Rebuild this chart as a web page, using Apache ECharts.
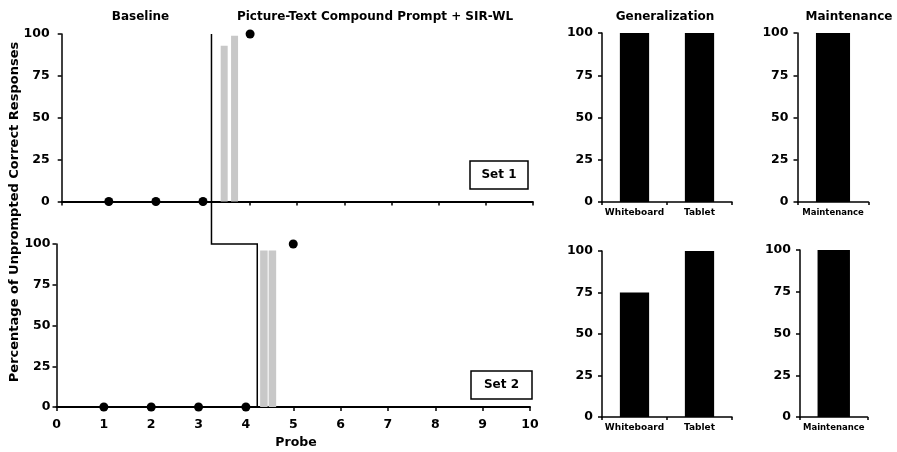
<!DOCTYPE html>
<html>
<head>
<meta charset="utf-8">
<script src="https://cdn.jsdelivr.net/npm/echarts@6/dist/echarts.min.js"></script>
<style>
  html, body { margin: 0; padding: 0; background: #fff; }
  #chart { width: 897px; height: 452px; }
</style>
</head>
<body>
<div id="chart"></div>
<script>
// Probe data, set 1
const set1Probe = [1, 2, 3, 4];
const set1Pct = [0, 0, 0, 100];
// Teaching-session bars, set 1 (probe position, percentage)
const set1SessionX = [3.45, 3.67];
const set1SessionPct = [93, 99];

// Probe data, set 2
const set2Probe = [1, 2, 3, 4, 5];
const set2Pct = [0, 0, 0, 0, 100];
const set2SessionX = [4.38, 4.56];
const set2SessionPct = [96, 96];

// Phase change positions (probe units) for set 1 and set 2
const phaseChange = [3.18, 4.24];

// Generalization and maintenance probes
const genCats = ['Whiteboard', 'Tablet'];
const gen1 = [100, 100];
const gen2 = [75, 100];
const maintCats = ['Maintenance'];
const maint1 = [100];
const maint2 = [100];

const probeMin = 0, probeMax = 10;

const FONT = '"DejaVu Sans", "Liberation Sans", Arial, sans-serif';
const black = '#000';

function yAxisCfg(gridIndex, margin) {
  return {
    type: 'value', gridIndex, min: 0, max: 100, interval: 25,
    axisLine: { show: true, lineStyle: { color: black, width: 1.5 } },
    axisTick: { show: true, length: 4, lineStyle: { color: black, width: 1.5 } },
    splitLine: { show: false },
    axisLabel: { color: black, fontFamily: FONT, fontWeight: 'bold', fontSize: 12.5, margin }
  };
}
function probeAxis(gridIndex, showLabels) {
  return {
    type: 'value', gridIndex, min: probeMin, max: probeMax, interval: 1,
    axisLine: { show: true, onZero: false, lineStyle: { color: black, width: 2 } },
    axisTick: { show: true, length: 4, lineStyle: { color: black, width: 1.5 } },
    splitLine: { show: false },
    axisLabel: { show: showLabels, color: black, fontFamily: FONT, fontWeight: 'bold', fontSize: 12.5, margin: 11 }
  };
}
function catAxis(gridIndex, cats, size) {
  return {
    type: 'category', gridIndex, data: cats, boundaryGap: true,
    axisLine: { show: true, lineStyle: { color: black, width: 1.5 } },
    axisTick: { show: true, length: 3, alignWithLabel: false, lineStyle: { color: black, width: 1.5 } },
    axisLabel: { color: black, fontFamily: FONT, fontWeight: 'bold', fontSize: size, margin: 6, interval: 0 }
  };
}
const pairs = (xs, ys) => xs.map((x, i) => [x, ys[i]]);

const chart = echarts.init(document.getElementById('chart'), null, { renderer: 'canvas' });

const dotStyle = { color: black, opacity: 1 };

const option = {
  animation: false,
  backgroundColor: '#fff',
  grid: [
    { left: 61.7, top: 34, width: 471, height: 167.5 },
    { left: 56.5, top: 244, width: 473.5, height: 163 },
    { left: 602, top: 33, width: 130, height: 169 },
    { left: 797.5, top: 33, width: 71, height: 169 },
    { left: 602, top: 251, width: 130, height: 166 },
    { left: 800, top: 250, width: 67.5, height: 167 }
  ],
  xAxis: [
    probeAxis(0, false),
    probeAxis(1, true),
    catAxis(2, genCats, 9),
    catAxis(3, maintCats, 8.5),
    catAxis(4, genCats, 9),
    catAxis(5, maintCats, 8.5)
  ],
  yAxis: [
    yAxisCfg(0, 12), yAxisCfg(1, 6), yAxisCfg(2, 9),
    yAxisCfg(3, 9), yAxisCfg(4, 9), yAxisCfg(5, 9)
  ],
  series: [
    { type: 'bar', xAxisIndex: 0, yAxisIndex: 0, barWidth: 7, data: pairs(set1SessionX, set1SessionPct),
      itemStyle: { color: '#c8c8c8' }, z: 1 },
    { type: 'scatter', xAxisIndex: 0, yAxisIndex: 0, symbol: 'circle', symbolSize: 9,
      data: pairs(set1Probe, set1Pct), itemStyle: dotStyle, clip: false, z: 5 },
    { type: 'bar', xAxisIndex: 1, yAxisIndex: 1, barWidth: 7.5, data: pairs(set2SessionX, set2SessionPct),
      itemStyle: { color: '#c8c8c8' }, z: 1 },
    { type: 'scatter', xAxisIndex: 1, yAxisIndex: 1, symbol: 'circle', symbolSize: 9,
      data: pairs(set2Probe, set2Pct), itemStyle: dotStyle, clip: false, z: 5 },
    { type: 'bar', xAxisIndex: 2, yAxisIndex: 2, barWidth: '45%', data: gen1, itemStyle: { color: black } },
    { type: 'bar', xAxisIndex: 3, yAxisIndex: 3, barWidth: '48%', data: maint1, itemStyle: { color: black } },
    { type: 'bar', xAxisIndex: 4, yAxisIndex: 4, barWidth: '45%', data: gen2, itemStyle: { color: black } },
    { type: 'bar', xAxisIndex: 5, yAxisIndex: 5, barWidth: '48%', data: maint2, itemStyle: { color: black } }
  ]
};
chart.setOption(option);

// Phase-change line: drops through set 1, steps across, then drops through set 2
const p0 = chart.convertToPixel({ xAxisIndex: 0, yAxisIndex: 0 }, [phaseChange[0], 100]);
const p1 = chart.convertToPixel({ xAxisIndex: 1, yAxisIndex: 1 }, [phaseChange[0], 100]);
const p2 = chart.convertToPixel({ xAxisIndex: 1, yAxisIndex: 1 }, [phaseChange[1], 100]);
const p3 = chart.convertToPixel({ xAxisIndex: 1, yAxisIndex: 1 }, [phaseChange[1], 0]);
p1[0] = p0[0];

const txt = (text, x, y, size, extra) => Object.assign({
  type: 'text', x, y,
  style: { text, fill: black, font: `bold ${size}px ${FONT}`, align: 'center', verticalAlign: 'middle' }
}, extra || {});

const setBox = (label, x, y, w, h) => ({
  type: 'group', children: [
    { type: 'rect', shape: { x, y, width: w, height: h }, style: { fill: '#fff', stroke: black, lineWidth: 1.5 } },
    txt(label, x + w / 2, y + h / 2, 12)
  ]
});

chart.setOption({
  graphic: [
    { type: 'polyline', shape: { points: [p0, p1, p2, p3] }, style: { stroke: black, lineWidth: 1.5, fill: null }, z: 10 },
    txt('Baseline', 140.5, 16.5, 12),
    txt('Picture-Text Compound Prompt + SIR-WL', 375, 16.5, 12),
    txt('Generalization', 665, 16.5, 12),
    txt('Maintenance', 849, 16.5, 12),
    txt('Probe', 296, 443, 12.5),
    txt('Percentage of Unprompted Correct Responses', 15, 212, 13, { rotation: Math.PI / 2 }),
    setBox('Set 1', 470, 161, 58, 28),
    setBox('Set 2', 471, 371, 61, 28)
  ]
});
</script>
</body>
</html>
